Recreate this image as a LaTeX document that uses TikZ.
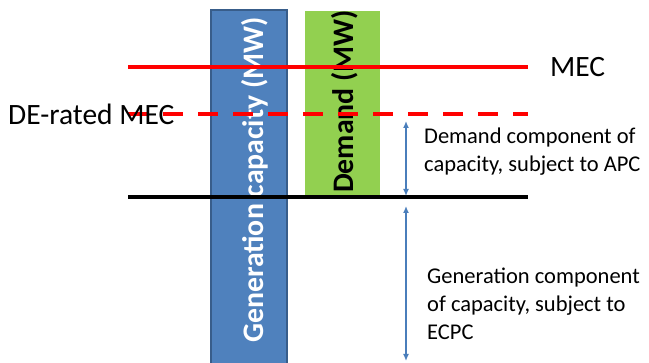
\documentclass[tikz,border=0pt]{standalone}
\usepackage{fontspec}
\setmainfont{Carlito}
\usetikzlibrary{arrows.meta}
\definecolor{barblue}{HTML}{4F81BD}
\definecolor{barblueedge}{HTML}{385D8A}
\definecolor{bargreen}{HTML}{92D050}
\definecolor{arrowblue}{HTML}{4A7EBB}
\tikzset{
  level/.style={line width=4pt},
  span/.style={arrowblue, line width=1.3pt, {Latex[length=7pt,width=6pt]}-{Latex[length=7pt,width=6pt]}},
  bartext/.style={rotate=90, anchor=base west, inner sep=0pt, font=\fontsize{29.8}{34}\selectfont\bfseries},
  label/.style={inner sep=0pt, anchor=west, align=left, font=\fontsize{22.5}{28}\selectfont},
  biglabel/.style={inner sep=0pt, anchor=west, font=\fontsize{29.5}{34}\selectfont}
}
\begin{document}
\begin{tikzpicture}[x=1pt, y=-1pt]
  \useasboundingbox (0,0) rectangle (649,363);
  % bars
  \fill[barblue, draw=barblueedge, line width=2pt] (211,10) rectangle (287,375);
  \fill[bargreen] (305,11) rectangle (380,195);
  \node[bartext, white] (gencap) at (263,343) {Generation capacity (MW)};
  \node[bartext, black] (demand) at (353,193) {Demand (MW)};
  % level coordinates
  \coordinate (mecL) at (128,67);   \coordinate (mecR) at (528,67);
  \coordinate (deL) at (128,114);   \coordinate (deR) at (528,114);
  \coordinate (baseL) at (128,197); \coordinate (baseR) at (528,197);
  % levels
  \draw[level, red] (mecL) -- (mecR);
  \draw[level, red, dash pattern=on 20pt off 15pt] (deL) -- (deR);
  \draw[level, black] (baseL) -- (baseR);
  % labels
  \node[biglabel] (mec) at (550,67) {MEC};
  \node[biglabel] (derated) at (8,114) {DE-rated MEC};
  \node[label] (demcomp) at (424,152) {Demand component of\\capacity, subject to APC};
  \node[label] (gencomp) at (427,304) {Generation component\\of capacity, subject to\\ECPC};
  % spans
  \coordinate (a1) at (406,121); \coordinate (a2) at (406,196);
  \coordinate (b1) at (406,206); \coordinate (b2) at (406,361);
  \draw[span] (a1) -- (a2);
  \draw[span] (b1) -- (b2);
\end{tikzpicture}
\end{document}
